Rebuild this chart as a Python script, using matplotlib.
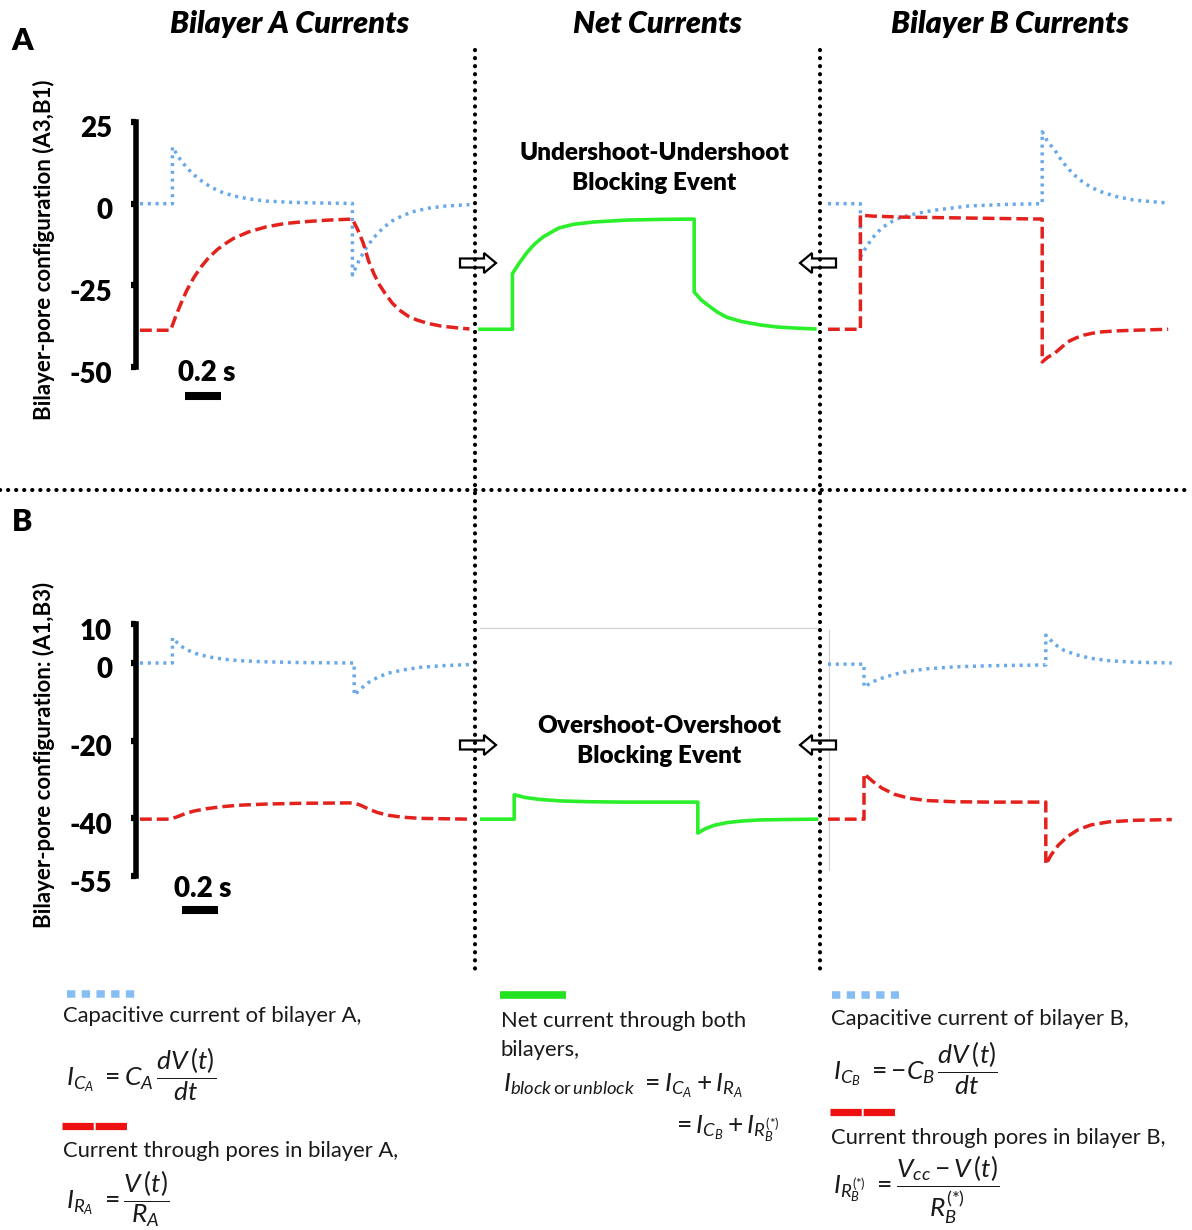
import matplotlib
matplotlib.use('Agg')
import matplotlib.pyplot as plt
from matplotlib.patches import FancyArrow
from matplotlib.transforms import ScaledTranslation

plt.rcParams['font.family'] = ['Lato', 'DejaVu Sans']
plt.rcParams['mathtext.fontset'] = 'custom'
plt.rcParams['mathtext.rm'] = 'Lato'
plt.rcParams['mathtext.it'] = 'Lato:italic'
plt.rcParams['mathtext.bf'] = 'Lato:bold'
plt.rcParams['lines.scale_dashes'] = False

W, H = 1192, 1230

# ---- traces, time in s from the start of each panel ----
# panel A (A3,B1): undershoot-undershoot
tA_capA = [0, 0.18, 0.18, 0.22, 0.26, 0.30, 0.35, 0.40, 0.46, 0.52, 0.60, 0.70, 0.85, 1.00, 1.18,
           1.18, 1.22, 1.26, 1.30, 1.35, 1.40, 1.46, 1.52, 1.60, 1.70, 1.83]
iA_capA = [0, 0, 17.3, 13.8, 11.0, 8.8, 6.6, 4.9, 3.4, 2.4, 1.5, 0.8, 0.4, 0.2, 0.1,
           -21.8, -17.0, -13.2, -10.3, -7.4, -5.3, -3.6, -2.4, -1.4, -0.7, -0.3]
tA_resA = [0, 0.17, 0.20, 0.23, 0.26, 0.30, 0.34, 0.38, 0.43, 0.48, 0.52, 0.60, 0.70, 0.80, 0.89, 1.05, 1.18,
           1.21, 1.24, 1.27, 1.30, 1.33, 1.36, 1.40, 1.44, 1.49, 1.54, 1.60, 1.67, 1.75, 1.83]
iA_resA = [-38.7, -38.7, -34.2, -30.2, -26.5, -22.5, -19.3, -16.6, -14.0, -12.0, -10.6, -8.7, -7.1, -6.1, -5.6,
           -5.0, -4.7,
           -8.0, -12.0, -17.5, -21.5, -24.8, -27.3, -30.3, -32.5, -34.4, -35.6, -36.6, -37.4, -37.9, -38.3]
tA_net = [0, 0.18, 0.18, 0.22, 0.26, 0.30, 0.35, 0.40, 0.44, 0.52, 0.63, 0.82, 1.00, 1.19,
          1.19, 1.23, 1.28, 1.32, 1.37, 1.45, 1.56, 1.65, 1.74, 1.86]
iA_net = [-38.4, -38.4, -21.4, -18.0, -15.0, -12.5, -10.2, -8.6, -7.4, -6.3, -5.6, -5.0, -4.8, -4.7,
          -27.0, -29.5, -31.6, -33.2, -34.7, -36.0, -37.1, -37.7, -38.0, -38.3]
tA_capB = [0, 0.18, 0.18, 0.21, 0.24, 0.27, 0.31, 0.36, 0.41, 0.50, 0.59, 0.78, 1.00, 1.19,
           1.19, 1.22, 1.26, 1.30, 1.34, 1.38, 1.42, 1.47, 1.52, 1.60, 1.70, 1.89]
iA_capB = [0, 0, -16.3, -13.5, -11.0, -9.0, -7.0, -5.3, -4.1, -2.9, -2.0, -0.7, -0.2, 0,
           22.0, 19.0, 16.4, 13.0, 10.4, 8.2, 6.4, 4.8, 3.6, 2.2, 1.1, 0.2]
tA_resB = [0, 0.18, 0.18, 0.25, 0.41, 0.80, 1.19, 1.19, 1.22, 1.26, 1.30, 1.33, 1.38, 1.42, 1.47,
           1.52, 1.60, 1.70, 1.89]
iA_resB = [-38.4, -38.4, -3.5, -3.8, -4.1, -4.4, -4.7, -48.4, -47.0, -45.7, -43.8, -42.3, -41.0, -40.2, -39.6,
           -39.2, -38.9, -38.7, -38.4]

# panel B (A1,B3): overshoot-overshoot
tB_capA = [0, 0.18, 0.18, 0.22, 0.26, 0.32, 0.38, 0.46, 0.55, 0.70, 0.90, 1.19,
           1.19, 1.23, 1.27, 1.32, 1.38, 1.46, 1.56, 1.68, 1.83]
iB_capA = [0, 0, 6.5, 4.6, 3.4, 2.3, 1.6, 1.0, 0.6, 0.3, 0.1, 0,
           -8.3, -6.5, -5.0, -3.7, -2.6, -1.8, -1.1, -0.7, -0.4]
tB_resA = [0, 0.16, 0.20, 0.25, 0.30, 0.37, 0.45, 0.55, 0.70, 0.90, 1.19, 1.23, 1.27, 1.32, 1.38,
           1.46, 1.56, 1.70, 1.83]
iB_resA = [-40.3, -40.3, -39.8, -38.9, -38.2, -37.6, -37.1, -36.7, -36.4, -36.2, -36.1, -36.8, -37.7, -38.6, -39.3,
           -39.8, -40.1, -40.2, -40.3]
tB_net = [0.01, 0.19, 0.19, 0.25, 0.33, 0.45, 0.60, 0.80, 1.00, 1.21,
          1.21, 1.25, 1.30, 1.37, 1.45, 1.55, 1.68, 1.87]
iB_net = [-40.3, -40.3, -34.0, -34.7, -35.2, -35.6, -35.8, -35.9, -35.9, -35.9,
          -43.9, -42.8, -41.9, -41.2, -40.8, -40.5, -40.4, -40.3]
tB_capB = [0, 0.20, 0.20, 0.25, 0.30, 0.37, 0.45, 0.55, 0.70, 0.90, 1.21,
           1.21, 1.26, 1.31, 1.38, 1.46, 1.56, 1.70, 1.91]
iB_capB = [-0.3, -0.3, -6.2, -4.8, -3.9, -2.9, -2.1, -1.5, -1.0, -0.7, -0.5,
           7.2, 4.8, 3.3, 2.1, 1.2, 0.6, 0.2, 0]
tB_resB = [0, 0.20, 0.20, 0.25, 0.30, 0.37, 0.45, 0.55, 0.70, 0.90, 1.21,
           1.21, 1.24, 1.28, 1.33, 1.39, 1.46, 1.56, 1.70, 1.91]
iB_resB = [-40.3, -40.3, -28.6, -30.6, -32.3, -33.9, -34.9, -35.5, -35.8, -35.9, -35.9,
           -52.0, -49.5, -47.0, -44.8, -43.0, -41.8, -41.0, -40.6, -40.4]

ticksA = [25, 0, -25, -50]
ticksB = [10, 0, -20, -40, -55]
col_titles = ['Bilayer A Currents', 'Net Currents', 'Bilayer B Currents']
event_labels = ['Undershoot-Undershoot\nBlocking Event', 'Overshoot-Overshoot\nBlocking Event']
ylabels = ['Bilayer-pore configuration (A3,B1)', 'Bilayer-pore configuration: (A1,B3)']

BLUE = '#6aa9e9'
RED = '#e3211d'
GREEN = '#2bef2b'
cap_style = dict(color=BLUE, lw=2.5, linestyle=(0, (2.2, 3.4)))
res_style = dict(color=RED, lw=2.5, linestyle=(0, (8.5, 3.6)))
net_style = dict(color=GREEN, lw=2.6)

fig = plt.figure(figsize=(W / 100, H / 100), dpi=100)
bg = fig.add_axes([0, 0, 1, 1])
bg.set_xlim(0, W)
bg.set_ylim(H, 0)
bg.axis('off')


def px_axes(x0, y0, x1, y1):
    ax = fig.add_axes([x0 / W, 1 - y1 / H, (x1 - x0) / W, (y1 - y0) / H])
    ax.patch.set_alpha(0)
    return ax


PXS = 180.0          # pixels per second
cols = [140, 480, 828]
rows = [dict(ylim=(-52, 26), zero=203.7, scale=3.27),
        dict(ylim=(-56, 11), zero=663.0, scale=3.875)]
xlim = (-0.02, 1.92)

data = [
    [[(tA_capA, iA_capA, cap_style), (tA_resA, iA_resA, res_style)],
     [(tA_net, iA_net, net_style)],
     [(tA_capB, iA_capB, cap_style), (tA_resB, iA_resB, res_style)]],
    [[(tB_capA, iB_capA, cap_style), (tB_resA, iB_resA, res_style)],
     [(tB_net, iB_net, net_style)],
     [(tB_capB, iB_capB, cap_style), (tB_resB, iB_resB, res_style)]],
]

num_font = dict(fontsize=20, fontweight='heavy')
drop = ScaledTranslation(0, -5 / 100, fig.dpi_scale_trans)   # labels sit a little below the ticks

for r, row in enumerate(rows):
    lo, hi = row['ylim']
    ytop = row['zero'] - hi * row['scale']
    ybot = row['zero'] - lo * row['scale']
    for c, x0 in enumerate(cols):
        ax = px_axes(x0 + xlim[0] * PXS, ytop, x0 + xlim[1] * PXS, ybot)
        ax.set_xlim(*xlim)
        ax.set_ylim(lo, hi)
        for t, v, st in data[r][c]:
            ax.plot(t, v, **st)
        for s in ['top', 'right', 'bottom']:
            ax.spines[s].set_visible(False)
        ax.set_xticks([])
        if c == 0:
            ticks = ticksA if r == 0 else ticksB
            ax.spines['left'].set_linewidth(4.0)
            ax.spines['left'].set_bounds(min(ticks), max(ticks))
            ax.spines['left'].set_capstyle('projecting')
            ax.set_yticks(ticks)
            ax.set_yticklabels([str(k) for k in ticks], **num_font)
            ax.tick_params(axis='y', length=3.5, width=4.5, pad=14)
            for lab in ax.get_yticklabels():
                lab.set_transform(lab.get_transform() + drop)
            # 0.2 s scale bar
            if r == 0:
                ax.plot([0.25, 0.45], [-58.8, -58.8], color='black', lw=5.8,
                        solid_capstyle='butt', clip_on=False)
                ax.text(0.37, -51.8, '0.2 s', ha='center', va='center', clip_on=False, **num_font)
            else:
                ax.plot([0.233, 0.433], [-63.7, -63.7], color='black', lw=5.8,
                        solid_capstyle='butt', clip_on=False)
                ax.text(0.35, -58.3, '0.2 s', ha='center', va='center', clip_on=False, **num_font)
        else:
            ax.spines['left'].set_visible(False)
            ax.set_yticks([])

# faint frame edges around panel B
bg.plot([480, 817], [628, 628], color='#cfcfcf', lw=0.8)
bg.plot([829, 829], [630, 870], color='#cfcfcf', lw=0.8)

# column titles and panel letters
for x, s in zip([290, 657, 1010], col_titles):
    bg.text(x, 24, s, fontsize=22, fontweight='heavy', style='italic', ha='center', va='center')
bg.text(22, 41, 'A', fontsize=22, fontweight='heavy', ha='center', va='center')
bg.text(22, 522, 'B', fontsize=22, fontweight='heavy', ha='center', va='center')

bg.text(654, 168, event_labels[0], fontsize=17.5, fontweight='heavy', ha='center', va='center',
        linespacing=1.4)
bg.text(659, 741, event_labels[1], fontsize=17.5, fontweight='heavy', ha='center', va='center',
        linespacing=1.4)

bg.text(44, 250, ylabels[0], fontsize=16, fontweight='bold', rotation=90, ha='center', va='center')
bg.text(44, 755, ylabels[1], fontsize=16, fontweight='bold', rotation=90, ha='center', va='center')

# hollow arrows pointing into the net-current column
for y in [263, 745]:
    bg.add_patch(FancyArrow(460, y, 36, 0, width=9, head_width=20, head_length=12,
                            length_includes_head=True, fc='white', ec='black', lw=1.6, zorder=3))
    bg.add_patch(FancyArrow(836, y, -36, 0, width=9, head_width=20, head_length=12,
                            length_includes_head=True, fc='white', ec='black', lw=1.6, zorder=3))

# dotted separators
dots = dict(color='black', lw=3.0, linestyle=(0, (0.1, 5.7)), dash_capstyle='round', zorder=5)
bg.plot([475, 475], [50, 975], **dots)
bg.plot([820, 820], [50, 975], **dots)
bg.plot([0, 1192], [490, 490], **dots)

# legend swatches
sq = dict(color='#86bdf3', lw=5.4, linestyle=(0, (6.0, 4.6)), dash_capstyle='butt')
bar = dict(color='#ee1111', lw=5.2, linestyle=(0, (22.5, 1.4)), dash_capstyle='butt')
bg.plot([67, 139], [994, 994], **sq)
bg.plot([62, 127], [1126, 1126], **bar)
bg.plot([500, 566], [995, 995], color='#22e222', lw=5.5, solid_capstyle='butt')
bg.plot([832, 899], [995, 995], **sq)
bg.plot([830, 895], [1112, 1112], **bar)

# legend text
lt = dict(fontsize=15.8, ha='left', va='center', color='#1a1a1a')
bg.text(63, 1016, 'Capacitive current of bilayer A,', **lt)
bg.text(63, 1151, 'Current through pores in bilayer A,', **lt)
bg.text(501, 1021, 'Net current through both', **lt)
bg.text(501, 1050, 'bilayers,', **lt)
bg.text(831, 1019, 'Capacitive current of bilayer B,', **lt)
bg.text(831, 1138, 'Current through pores in bilayer B,', **lt)

eq = dict(fontsize=19, ha='left', va='center', color='#1a1a1a')
bg.text(66, 1074, r'$I_{C_A}\ = C_A\,\dfrac{dV\,(t)}{dt}$', **eq)
bg.text(66, 1199, r'$I_{R_A}\ = \dfrac{V\,(t)}{R_A}$', **eq)
bg.text(503, 1086, r'$I_{block\,\mathrm{or}\,unblock}\ = I_{C_A} + I_{R_A}$', **eq)
bg.text(672, 1129, r'$= I_{C_B} + I_{R_B^{(*)}}$', **eq)
bg.text(833, 1068, r'$I_{C_B}\ = -C_B\,\dfrac{dV\,(t)}{dt}$', **eq)
bg.text(833, 1190, r'$I_{R_B^{(*)}}\ = \dfrac{V_{cc} - V\,(t)}{R_B^{(*)}}$', **eq)

fig.savefig('out.png', dpi=100, facecolor='white')
